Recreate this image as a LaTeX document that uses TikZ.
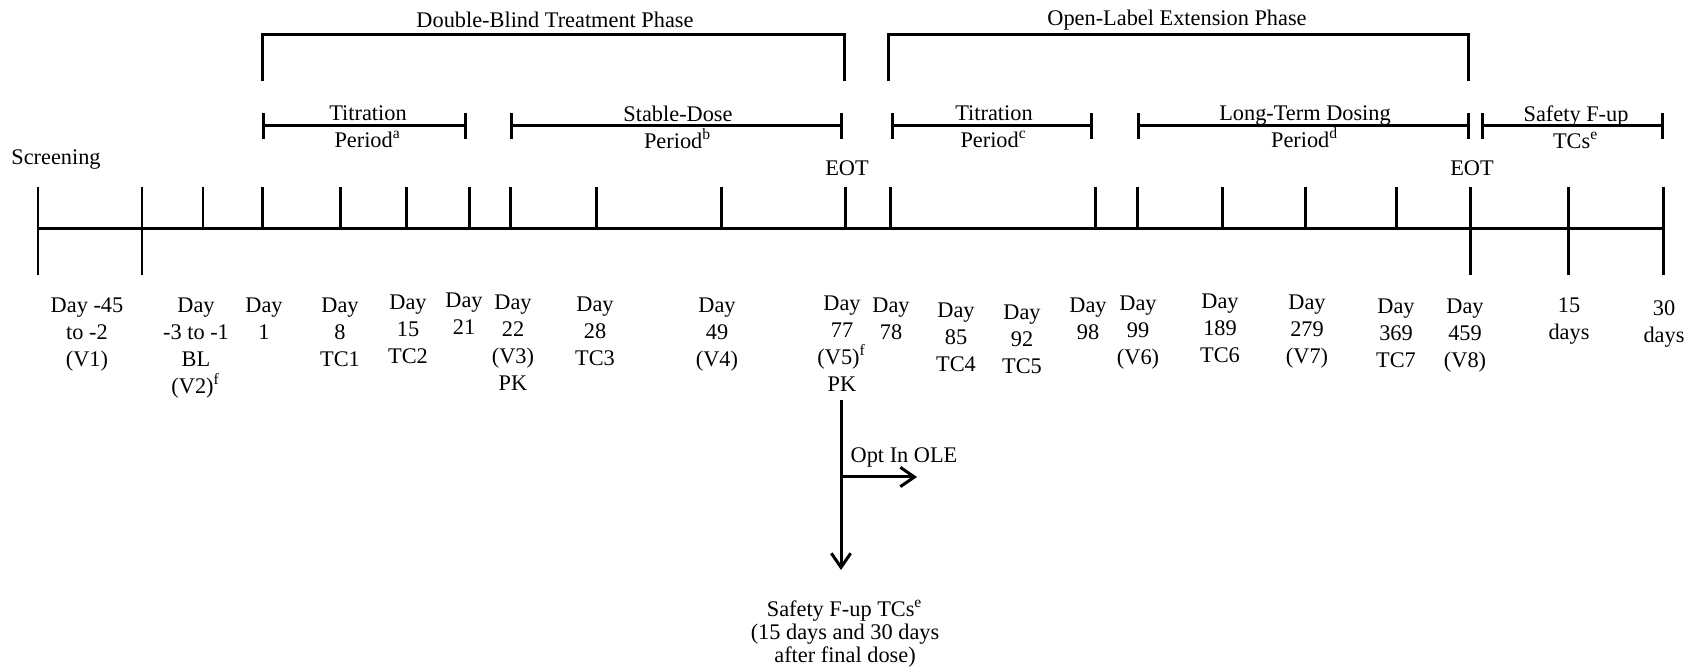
\documentclass[tikz,border=0pt]{standalone}
\usepackage{fontspec}
\setmainfont{Liberation Serif}
\usetikzlibrary{arrows.meta}

\begin{document}
\begin{tikzpicture}[x=0.01cm,y=-0.01cm,line width=0.85pt,
  lbl/.style={align=center,inner sep=0pt,font=\fontsize{6.35}{7.7}\selectfont},
  day/.style={lbl,anchor=north},
  period/.style={{Bar[width=7.4pt]}-{Bar[width=7.4pt]}},
  arr/.style={-{Straight Barb[length=4pt,width=5.5pt]}}]
\useasboundingbox (0,0) rectangle (1692,668);

% phases
\node[lbl] (dbt) at (555,20) {Double-Blind Treatment Phase};
\node[lbl] (ole) at (1177,20) {Open-Label Extension Phase};
\draw (262,81) |- (844,35) -- (844,81);
\draw (888,81) |- (1468,35) -- (1468,81);

% periods
\draw[period] (262,126) -- (467,126);
\draw[period] (510,126) -- (843,126);
\draw[period] (891,126) -- (1093,126);
\draw[period] (1137,126) -- (1470,126);
\draw[period] (1481,126) -- (1664,126);

\node[lbl] (p1) at (368,127) {Titration\\Period\textsuperscript{a}};
\node[lbl] (p2) at (678,127) {Stable-Dose\\Period\textsuperscript{b}};
\node[lbl] (p3) at (994,127) {Titration\\Period\textsuperscript{c}};
\node[lbl] (p4) at (1305,127) {Long-Term Dosing\\Period\textsuperscript{d}};
\node[lbl] (p5) at (1576,127) {Safety F-up\\TCs\textsuperscript{e}};

\node[lbl] (scr) at (56,160) {Screening};
\node[lbl] (eot1) at (847,168) {EOT};
\node[lbl] (eot2) at (1472,168) {EOT};

% timeline
\coordinate (start) at (38,229);
\coordinate (end) at (1663,229);
\draw (start) -- (end);
\foreach \x in {38,142,203,262,340,406,469,510,596,721,845,890,1095,1137,1222,1305,1396,1470,1568,1663}
  \draw (\x,229) -- ++(0,-42);
\foreach \x in {38,142,1470,1568,1663}
  \draw (\x,229) -- ++(0,46);

% visit days
\node[day] (d1) at (87,296) {Day -45\\to -2\\(V1)};
\node[day] (d2) at (196,296) {Day\\-3 to -1\\BL\\(V2)\textsuperscript{f}};
\node[day] (d3) at (264,296) {Day\\1};
\node[day] (d4) at (340,296) {Day\\8\\TC1};
\node[day] (d5) at (408,293) {Day\\15\\TC2};
\node[day] (d6) at (464,291) {Day\\21};
\node[day] (d7) at (513,293) {Day\\22\\(V3)\\PK};
\node[day] (d8) at (595,295) {Day\\28\\TC3};
\node[day] (d9) at (717,296) {Day\\49\\(V4)};
\node[day] (d10) at (842,294) {Day\\77\\(V5)\textsuperscript{f}\\PK};
\node[day] (d11) at (891,296) {Day\\78};
\node[day] (d12) at (956,301) {Day\\85\\TC4};
\node[day] (d13) at (1022,303) {Day\\92\\TC5};
\node[day] (d14) at (1088,296) {Day\\98};
\node[day] (d15) at (1138,294) {Day\\99\\(V6)};
\node[day] (d16) at (1220,292) {Day\\189\\TC6};
\node[day] (d17) at (1307,293) {Day\\279\\(V7)};
\node[day] (d18) at (1396,297) {Day\\369\\TC7};
\node[day] (d19) at (1465,297) {Day\\459\\(V8)};
\node[day] (d20) at (1569,296) {15\\days};
\node[day] (d21) at (1664,299) {30\\days};

% opt in / follow-up
\node[lbl] (opt) at (904,457) {Opt In OLE};
\node[lbl,anchor=north,font=\fontsize{6.35}{6.5}\selectfont] (fup) at (845,599)
  {Safety F-up TCs\textsuperscript{e}\\(15 days and 30 days\\after final dose)};
\coordinate (drop) at (841,400);
\coordinate (split) at (841,477);
\coordinate (optend) at (917,477);
\coordinate (droptip) at (841,570);
\draw[arr] (drop) -- (droptip);
\draw[arr] (split) -- (optend);
\end{tikzpicture}
\end{document}
